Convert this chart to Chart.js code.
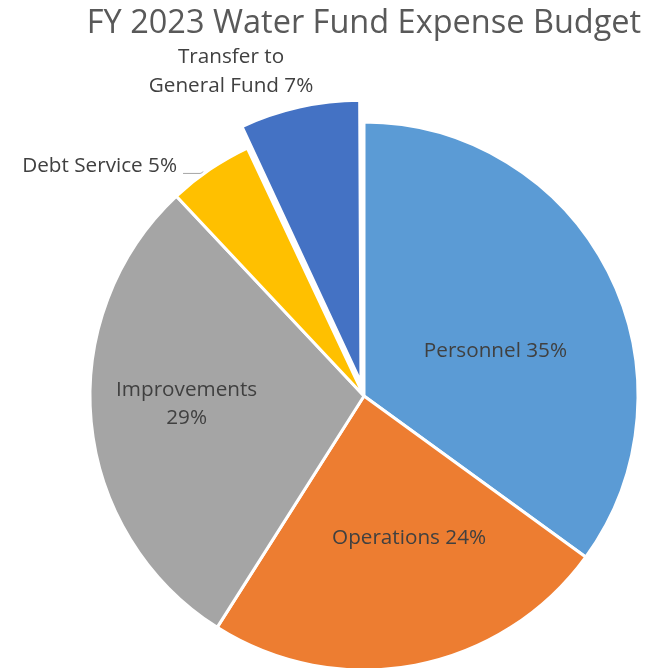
<!DOCTYPE html>
<html><head><meta charset="utf-8">
<script src="https://cdn.jsdelivr.net/npm/chart.js@4.4.0/dist/chart.umd.min.js"></script>
<style>html,body{margin:0;padding:0;background:#fff;overflow:hidden}#wrap{width:646px;height:668px;position:relative}</style>
</head><body><div id="wrap"><canvas id="c" width="646" height="668"></canvas></div>
<script>
const categories = ['Personnel', 'Operations', 'Improvements', 'Debt Service', 'Transfer to General Fund'];
const values = [35, 24, 29, 5, 7];
const dataLabels = ['Personnel 35%', 'Operations 24%', 'Improvements\n29%', 'Debt Service 5%', 'Transfer to\nGeneral Fund 7%'];
const sliceColors = ['#5B9BD5', '#ED7D31', '#A5A5A5', '#FFC000', '#4472C4'];
const sliceOffsets = [0, 0, 0, 0, 56];
const chartTitle = 'FY 2023 Water Fund Expense Budget';

const FONT = "'Open Sans', 'Liberation Sans', sans-serif";
// label placement: fraction of radius, angle tweak (deg), alignment
const place = [
  {f: 0.507, d: 8.1, align: 'center'},
  {f: 0.544, d: -6.8, align: 'center'},
  {f: 0.648, d: 2.8, align: 'center'},
  {f: 1.082, d: -4.9, align: 'right', leader: true},
  {f: 1.279, d: -9.7, align: 'center'}
];

const labelPlugin = {
  id: 'sliceLabels',
  afterDatasetsDraw(chart) {
    const ctx = chart.ctx;
    const meta = chart.getDatasetMeta(0);
    ctx.save();
    ctx.font = '20.7px ' + FONT;
    ctx.fillStyle = '#404040';
    ctx.textBaseline = 'middle';
    meta.data.forEach((arc, i) => {
      const p = arc.getProps(['x', 'y', 'startAngle', 'endAngle', 'outerRadius'], true);
      const cfg = place[i];
      const mid = (p.startAngle + p.endAngle) / 2 + cfg.d * Math.PI / 180;
      const r = p.outerRadius * cfg.f;
      const x = p.x + Math.cos(mid) * r;
      const y = p.y + Math.sin(mid) * r;
      const lines = dataLabels[i].split('\n');
      const lh = 28.5;
      ctx.textAlign = cfg.align;
      lines.forEach((ln, k) => {
        ctx.fillText(ln, x, y + (k - (lines.length - 1) / 2) * lh);
      });
      if (cfg.leader) {
        ctx.strokeStyle = '#A6A6A6';
        ctx.lineWidth = 1;
        ctx.beginPath();
        ctx.moveTo(x + 6, y + 7.5);
        ctx.lineTo(x + 23, y + 7.5);
        ctx.quadraticCurveTo(x + 25, y + 7.5, x + 26, y + 5.5);
        ctx.stroke();
      }
    });
    ctx.restore();
  }
};

new Chart(document.getElementById('c'), {
  type: 'pie',
  data: {
    labels: categories,
    datasets: [{
      data: values,
      backgroundColor: sliceColors,
      borderColor: '#FFFFFF',
      borderWidth: 3,
      offset: sliceOffsets,
      hoverOffset: 0,
      clip: false
    }]
  },
  options: {
    responsive: false,
    animation: false,
    radius: 274,
    layout: {padding: {left: 82, right: 0, top: 0, bottom: 0}},
    plugins: {
      legend: {display: false},
      tooltip: {enabled: false},
      title: {
        display: true,
        text: chartTitle,
        color: '#595959',
        font: {family: FONT, size: 32.5, weight: 'normal', lineHeight: 1.2},
        padding: {top: 4, bottom: 81}
      }
    }
  },
  plugins: [labelPlugin]
});
</script>
</body></html>
